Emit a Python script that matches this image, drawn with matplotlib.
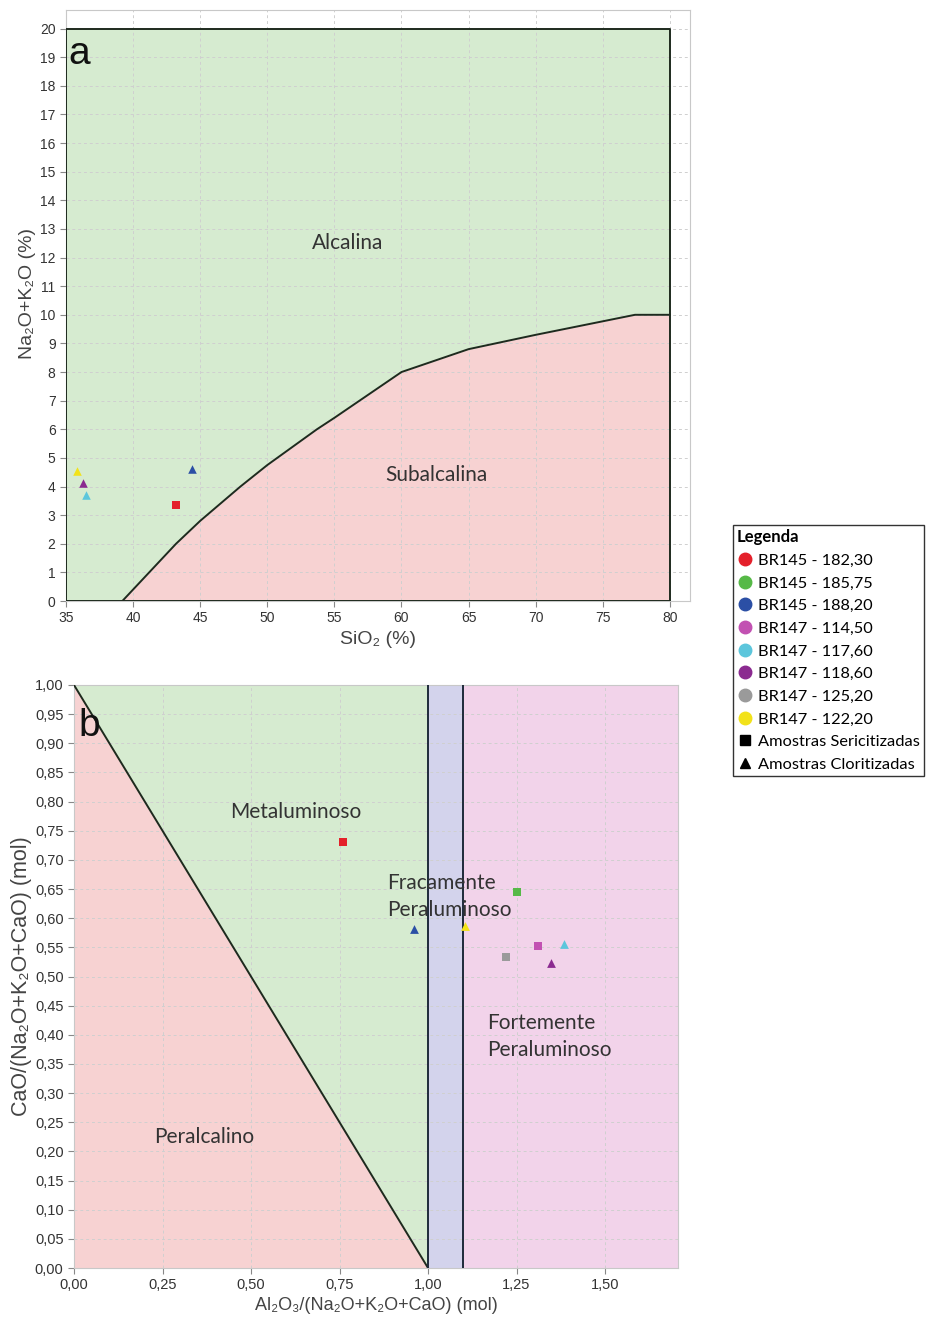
import matplotlib.pyplot as plt
from matplotlib.lines import Line2D
from matplotlib.ticker import FuncFormatter

plt.rcParams['font.family'] = ['Liberation Sans', 'DejaVu Sans']
fonte_reg = ['Lato', 'DejaVu Sans']

# amostras e cores da legenda
amostras = ["BR145 - 182,30", "BR145 - 185,75", "BR145 - 188,20", "BR147 - 114,50",
            "BR147 - 117,60", "BR147 - 118,60", "BR147 - 125,20", "BR147 - 122,20"]
cores = ["#e4202a", "#56b947", "#2b4fa5", "#c251b2", "#5cc6dc", "#8b2a90", "#9a9a9a", "#f2e21a"]

# curva Irvine & Baragar (alcalina / subalcalina)
curva_si = [39.2, 40, 43.2, 45, 48, 50, 53.7, 55, 60, 65, 70, 77.4, 80]
curva_alk = [0, 0.4, 2.0, 2.8, 4.0, 4.75, 6.0, 6.4, 8.0, 8.8, 9.3, 10.0, 10.0]

# diagrama a: TAS
a_amostra = [7, 5, 4, 2, 0]
a_marker = ["^", "^", "^", "^", "s"]
a_si = [35.8, 36.25, 36.5, 44.4, 43.2]
a_alk = [4.55, 4.12, 3.72, 4.6, 3.35]

# diagrama b: Shand
b_amostra = [0, 2, 7, 1, 6, 3, 5, 4]
b_marker = ["s", "^", "^", "s", "s", "s", "^", "^"]
b_acnk = [0.76, 0.96, 1.105, 1.25, 1.22, 1.31, 1.348, 1.383]
b_cao = [0.73, 0.582, 0.587, 0.645, 0.533, 0.553, 0.524, 0.556]

verde = "#d6ebd0"
rosa = "#f7d2d2"
lilas = "#d3d3ec"
magenta = "#f2d3ea"
texto = "#333333"

fig = plt.figure(figsize=(9.36, 13.18), dpi=100)


def estilo(ax, tam):
    ax.grid(True, linestyle=(0, (3, 3)), color="#cfcfcf", linewidth=0.7, zorder=2)
    for s in ax.spines.values():
        s.set_color("#c8c8c8")
    ax.tick_params(labelsize=tam, colors="#333333", length=4, color="#888888")


# ---------- a ----------
ax1 = fig.add_axes([66 / 936, 1 - 601 / 1318, 624 / 936, 591 / 1318])
ax1.fill_between([35] + curva_si, [20] * (len(curva_si) + 1), [0] + curva_alk, color=verde, zorder=1, lw=0)
ax1.fill_between(curva_si, curva_alk, 0, color=rosa, zorder=1, lw=0)
ax1.plot(curva_si, curva_alk, color="#1e2a1e", lw=1.4, zorder=3)
ax1.plot([35, 80, 80, 35, 35], [0, 0, 20, 20, 0], color="#1e2a1e", lw=1.4, zorder=3)
for i, m, x, y in zip(a_amostra, a_marker, a_si, a_alk):
    ax1.scatter(x, y, marker=m, s=38, color=cores[i], zorder=4, lw=0)
ax1.set_xlim(35, 81.5)
ax1.set_ylim(0, 20.65)
ax1.set_xticks(range(35, 81, 5))
ax1.set_yticks(range(0, 21))
estilo(ax1, 10)
ax1.set_xlabel("SiO₂ (%)", fontsize=14, color="#444444", labelpad=4)
ax1.set_ylabel("Na₂O+K₂O (%)", fontsize=14, color="#444444")
ax1.yaxis.set_label_coords(-0.048, 0.52)
ax1.text(56, 12.5, "Alcalina", fontsize=15, family=fonte_reg, color=texto, ha="center", va="center", zorder=5)
ax1.text(62.6, 4.4, "Subalcalina", fontsize=15, family=fonte_reg, color=texto, ha="center", va="center", zorder=5)
ax1.text(35.2, 19.1, "a", fontsize=28, color="#111111", ha="left", va="center", zorder=5)

# ---------- b ----------
ax2 = fig.add_axes([74 / 936, 1 - 1268 / 1318, 604 / 936, 583 / 1318])
ax2.fill([0, 0, 1], [0, 1, 0], color=rosa, zorder=1, lw=0)
ax2.fill([0, 1, 1], [1, 1, 0], color=verde, zorder=1, lw=0)
ax2.fill([1, 1.1, 1.1, 1], [0, 0, 1, 1], color=lilas, zorder=1, lw=0)
ax2.fill([1.1, 1.71, 1.71, 1.1], [0, 0, 1, 1], color=magenta, zorder=1, lw=0)
ax2.plot([0, 1], [1, 0], color="#1e2a1e", lw=1.4, zorder=3)
ax2.plot([1, 1], [0, 1], color="#1e2a3a", lw=1.4, zorder=3)
ax2.plot([1.1, 1.1], [0, 1], color="#1e2a3a", lw=1.4, zorder=3)
for i, m, x, y in zip(b_amostra, b_marker, b_acnk, b_cao):
    ax2.scatter(x, y, marker=m, s=40, color=cores[i], zorder=4, lw=0)
ax2.set_xlim(0, 1.706)
ax2.set_ylim(0, 1)
ax2.set_xticks([0, 0.25, 0.5, 0.75, 1.0, 1.25, 1.5])
ax2.set_yticks([i * 0.05 for i in range(21)])
virgula = FuncFormatter(lambda v, p: f"{v:.2f}".replace(".", ","))
ax2.xaxis.set_major_formatter(virgula)
ax2.yaxis.set_major_formatter(virgula)
estilo(ax2, 10.5)
ax2.set_xlabel("Al₂O₃/(Na₂O+K₂O+CaO) (mol)", fontsize=13, color="#444444", labelpad=3)
ax2.set_ylabel("CaO/(Na₂O+K₂O+CaO) (mol)", fontsize=15.5, color="#444444", labelpad=2)
ax2.text(0.627, 0.782, "Metaluminoso", fontsize=15, family=fonte_reg, color=texto, ha="center", va="center", zorder=5)
ax2.text(0.884, 0.660, "Fracamente", fontsize=15, family=fonte_reg, color=texto, ha="left", va="center", zorder=5)
ax2.text(0.884, 0.614, "Peraluminoso", fontsize=15, family=fonte_reg, color=texto, ha="left", va="center", zorder=5)
ax2.text(1.167, 0.420, "Fortemente", fontsize=15, family=fonte_reg, color=texto, ha="left", va="center", zorder=5)
ax2.text(1.167, 0.374, "Peraluminoso", fontsize=15, family=fonte_reg, color=texto, ha="left", va="center", zorder=5)
ax2.text(0.367, 0.225, "Peralcalino", fontsize=15, family=fonte_reg, color=texto, ha="center", va="center", zorder=5)
ax2.text(0.012, 0.93, "b", fontsize=28, color="#111111", ha="left", va="center", zorder=5)

# ---------- legenda ----------
handles = [Line2D([], [], marker="o", ls="", color=c, markersize=9) for c in cores]
handles += [Line2D([], [], marker="s", ls="", color="black", markersize=7),
            Line2D([], [], marker="^", ls="", color="black", markersize=7)]
labels = amostras + ["Amostras Sericitizadas", "Amostras Cloritizadas"]
leg = fig.legend(handles, labels, loc="upper left", bbox_to_anchor=(733 / 936, 1 - 525 / 1318),
                 title="Legenda", prop={"family": fonte_reg, "size": 11.8},
                 title_fontproperties={"family": fonte_reg, "weight": "bold", "size": 12},
                 frameon=True, fancybox=False, edgecolor="black", handletextpad=0.3,
                 handlelength=1.0, labelspacing=0.5, borderpad=0.25, borderaxespad=0)
leg._legend_box.align = "left"
leg.get_frame().set_linewidth(1.0)

fig.savefig("out.png", dpi=100, facecolor="white")
